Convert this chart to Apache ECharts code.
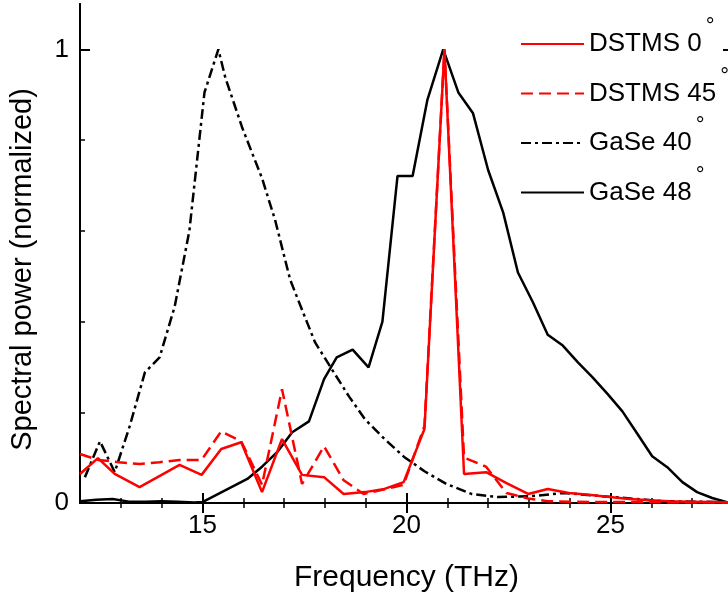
<!DOCTYPE html>
<html><head><meta charset="utf-8">
<script src="https://cdn.jsdelivr.net/npm/echarts@6/dist/echarts.min.js"></script>
<style>html,body{margin:0;padding:0;overflow:hidden;background:#fff;width:728px;height:598px}#c{width:733px;height:598px}</style>
</head><body><div id="c"></div>
<script>
const FONT = '"Liberation Sans", Arial, Helvetica, sans-serif';

// tick values
const xTickLabels = [15, 20, 25];
const xMinorTicks = [13, 14, 16, 17, 18, 19, 21, 22, 23, 24, 26, 27];
const yTickLabels = [0, 1];
const yMinorTicks = [0.2, 0.4, 0.6, 0.8];

// series names
const seriesNames = ['DSTMS 0°', 'DSTMS 45°', 'GaSe 40°', 'GaSe 48°'];

// DSTMS 0°
const dstms0X = [12.0, 12.44, 12.85, 13.46, 14.44, 14.98, 15.46, 15.95, 16.46, 16.95, 17.44, 17.98, 18.46, 18.98, 19.46, 19.93, 20.44, 20.93, 21.41, 21.95, 22.45, 22.98, 23.46, 23.98, 24.46, 24.98, 25.46, 25.95, 26.45, 26.95, 27.45, 27.95];
const dstms0Y = [0.064, 0.099, 0.064, 0.035, 0.084, 0.062, 0.119, 0.134, 0.024, 0.141, 0.062, 0.057, 0.02, 0.024, 0.031, 0.046, 0.163, 1.0, 0.064, 0.068, 0.044, 0.02, 0.031, 0.022, 0.018, 0.013, 0.009, 0.006, 0.004, 0.003, 0.002, 0.001];

// DSTMS 45°
const dstms45X = [12.0, 12.44, 12.95, 13.46, 13.95, 14.44, 14.98, 15.46, 15.95, 16.46, 16.95, 17.44, 17.98, 18.46, 18.95, 19.46, 19.93, 20.44, 20.93, 21.41, 21.95, 22.45, 22.98, 23.46, 23.98, 24.46, 24.98, 25.46, 25.95, 26.45, 26.95, 27.45, 27.95];
const dstms45Y = [0.108, 0.095, 0.09, 0.086, 0.09, 0.095, 0.095, 0.158, 0.136, 0.04, 0.251, 0.042, 0.125, 0.05, 0.02, 0.03, 0.04, 0.17, 1.0, 0.1, 0.08, 0.022, 0.01, 0.004, 0.003, 0.002, 0.002, 0.002, 0.002, 0.001, 0.001, 0.001, 0.001];

// GaSe 40°
const gase40X = [12.12, 12.49, 12.85, 13.22, 13.59, 13.95, 14.32, 14.68, 15.05, 15.39, 15.56, 15.98, 16.46, 16.78, 17.15, 17.44, 17.76, 18.17, 18.59, 18.98, 19.46, 19.95, 20.44, 20.98, 21.59, 22.24, 23.05, 23.85, 25.07, 26.29, 27.85];
const gase40Y = [0.057, 0.136, 0.068, 0.17, 0.288, 0.321, 0.433, 0.60, 0.905, 1.0, 0.938, 0.826, 0.716, 0.624, 0.492, 0.426, 0.354, 0.295, 0.235, 0.185, 0.141, 0.101, 0.070, 0.042, 0.020, 0.013, 0.015, 0.022, 0.013, 0.004, 0.002];

// GaSe 48°
const gase48X = [12.0, 12.4, 12.8, 13.2, 13.6, 14.0, 14.4, 14.8, 15.0, 16.1, 16.46, 16.83, 17.2, 17.61, 17.98, 18.29, 18.68, 19.07, 19.41, 19.78, 20.15, 20.51, 20.9, 21.27, 21.63, 22.0, 22.37, 22.73, 23.1, 23.46, 23.83, 24.2, 24.56, 24.93, 25.29, 25.66, 26.02, 26.39, 26.76, 27.12, 27.49, 27.85];
const gase48Y = [0.004, 0.007, 0.009, 0.003, 0.003, 0.004, 0.003, 0.001, 0.002, 0.053, 0.08, 0.112, 0.156, 0.18, 0.273, 0.321, 0.338, 0.299, 0.40, 0.721, 0.721, 0.888, 1.0, 0.905, 0.859, 0.734, 0.64, 0.508, 0.442, 0.371, 0.347, 0.31, 0.277, 0.24, 0.202, 0.152, 0.103, 0.079, 0.046, 0.024, 0.011, 0.002];

const zip = (xs, ys) => xs.map((x, i) => [x, ys[i]]);

const chart = echarts.init(document.getElementById('c'), null, {renderer: 'canvas'});

const axLine = {show: true, lineStyle: {color: '#000', width: 2}};
const majorTick = (vals) => ({show: true, inside: true, length: 10, customValues: vals, lineStyle: {color: '#000', width: 2}});
const minorTick = (vals) => ({show: true, inside: true, length: 5, customValues: vals, lineStyle: {color: '#000', width: 1.5}});
const noLabel = {show: false};
const noSplit = {show: false};

function xAx(pos, tick, label, extra) {
  return Object.assign({type: 'value', min: 12, max: 28, position: pos, axisLine: axLine, axisTick: tick, axisLabel: label, splitLine: noSplit}, extra || {});
}
function yAx(pos, tick, label, extra) {
  return Object.assign({type: 'value', min: 0, max: 1.1, position: pos, axisLine: axLine, axisTick: tick, axisLabel: label, splitLine: noSplit}, extra || {});
}

const option = {
  animation: false,
  backgroundColor: '#fff',
  grid: {left: 77, top: 4, right: 0, bottom: 94, containLabel: false},
  xAxis: [
    xAx('bottom', majorTick(xTickLabels), {show: true, customValues: xTickLabels, fontSize: 26, color: '#000', fontFamily: FONT, margin: 10},
      {name: 'Frequency (THz)', nameLocation: 'middle', nameGap: 60, nameTextStyle: {fontSize: 30, color: '#000', fontFamily: FONT}}),
    xAx('bottom', minorTick(xMinorTicks), noLabel),
    xAx('top', majorTick(xTickLabels), noLabel),
    xAx('top', minorTick(xMinorTicks), noLabel)
  ],
  yAxis: [
    yAx('left', majorTick(yTickLabels), {show: true, customValues: yTickLabels, fontSize: 26, color: '#000', fontFamily: FONT, margin: 11},
      {name: 'Spectral power (normalized)', nameLocation: 'middle', nameRotate: 90, nameGap: 43,
       nameTextStyle: {fontSize: 29, color: '#000', fontFamily: FONT, padding: [0, 32, 0, 0]}}),
    yAx('left', minorTick(yMinorTicks), noLabel),
    yAx('right', majorTick(yTickLabels), noLabel),
    yAx('right', minorTick(yMinorTicks), noLabel)
  ],
  legend: {
    orient: 'vertical', left: 515, top: 11,
    itemWidth: 63, itemHeight: 14, itemGap: -6.5,
    selectedMode: false,
    data: seriesNames,
    itemStyle: {opacity: 0},
    formatter: (name) => '{n|' + name.slice(0, -1) + '}{d|°}',
    textStyle: {
      color: '#000',
      rich: {
        n: {fontSize: 26, lineHeight: 28, fontFamily: FONT, color: '#000'},
        d: {fontSize: 22, lineHeight: 28, fontFamily: FONT, color: '#000', padding: [0, 0, 34, 4]}
      }
    }
  },
  series: [
    {name: seriesNames[3], type: 'line', data: zip(gase48X, gase48Y), symbol: 'none', z: 2,
     lineStyle: {color: '#000', width: 2.5}, itemStyle: {color: '#000'}},
    {name: seriesNames[2], type: 'line', data: zip(gase40X, gase40Y), symbol: 'none', z: 2,
     lineStyle: {color: '#000', width: 2.5, type: [10, 4, 3, 4]}, itemStyle: {color: '#000'}},
    {name: seriesNames[1], type: 'line', data: zip(dstms45X, dstms45Y), symbol: 'none', z: 3,
     lineStyle: {color: '#ff0000', width: 2.5, type: [12, 6]}, itemStyle: {color: '#ff0000'}},
    {name: seriesNames[0], type: 'line', data: zip(dstms0X, dstms0Y), symbol: 'none', z: 4,
     lineStyle: {color: '#ff0000', width: 2.5}, itemStyle: {color: '#ff0000'}}
  ]
};
chart.setOption(option);
</script>
</body></html>
